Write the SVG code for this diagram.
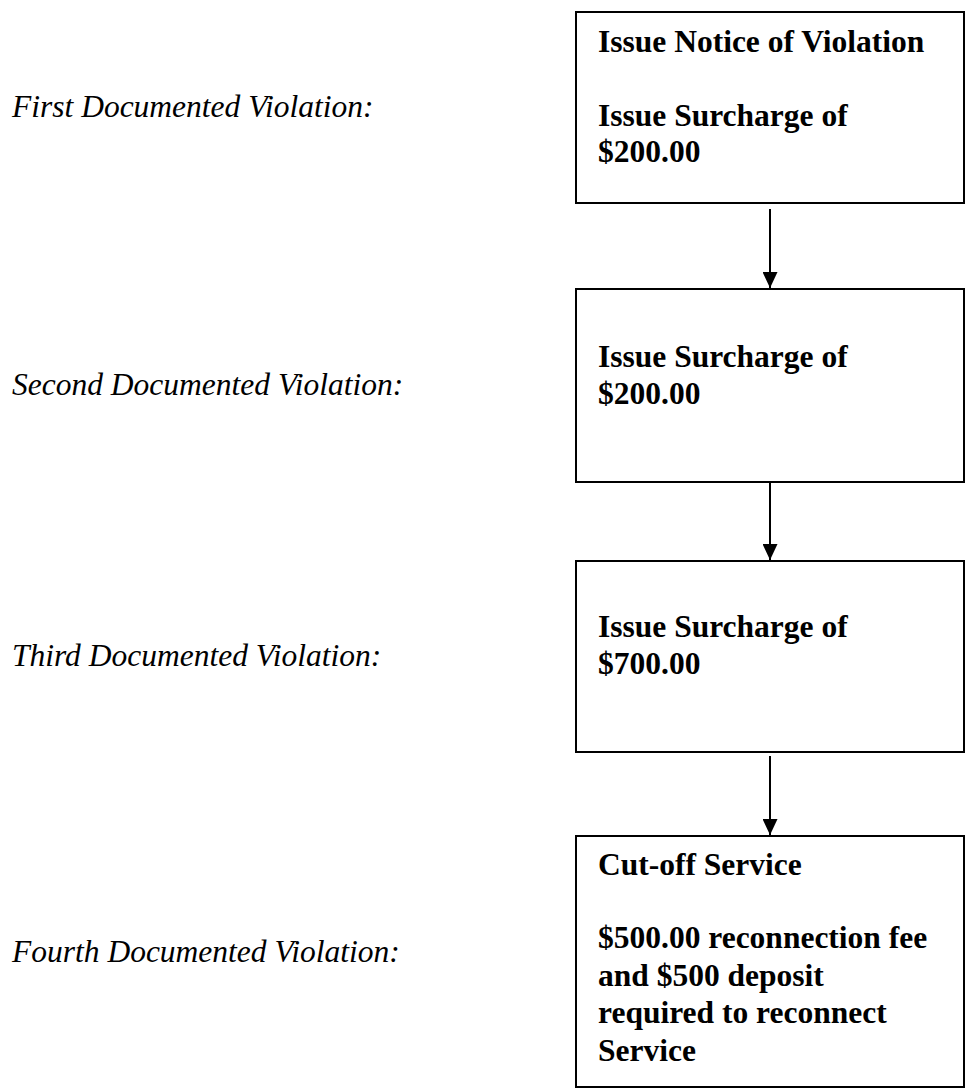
<svg xmlns="http://www.w3.org/2000/svg" width="972" height="1089" viewBox="0 0 972 1089">
<defs>
<style>
.box{fill:#fff;stroke:#000;stroke-width:2}
.bt{font-family:"Liberation Serif","Times New Roman",serif;font-weight:bold;font-size:31.5px;fill:#000}
.lbl{font-family:"Liberation Serif","Times New Roman",serif;font-style:italic;font-size:31.5px;fill:#000}
.conn{stroke:#000;stroke-width:2;fill:none}
</style>
<marker id="arr" markerWidth="16" markerHeight="15" refX="16" refY="7.5" orient="auto" markerUnits="userSpaceOnUse">
<path d="M0,0 L16,7.5 L0,15 Z" fill="#000"/>
</marker>
</defs>
<rect width="972" height="1089" fill="#fff"/>
<g id="label1"><text class="lbl" x="12" y="117">First Documented Violation:</text></g>
<g id="label2"><text class="lbl" x="12" y="395">Second Documented Violation:</text></g>
<g id="label3"><text class="lbl" x="12" y="666">Third Documented Violation:</text></g>
<g id="label4"><text class="lbl" x="12" y="962">Fourth Documented Violation:</text></g>
<g id="node1">
<rect class="box" x="576" y="12" width="388" height="191"/>
<text class="bt" x="598" y="52">Issue Notice of Violation</text>
<text class="bt" x="598" y="126">Issue Surcharge of</text>
<text class="bt" x="598" y="162">$200.00</text>
</g>
<g id="node2">
<rect class="box" x="576" y="289" width="388" height="193"/>
<text class="bt" x="598" y="367">Issue Surcharge of</text>
<text class="bt" x="598" y="404">$200.00</text>
</g>
<g id="node3">
<rect class="box" x="576" y="561" width="388" height="191"/>
<text class="bt" x="598" y="637">Issue Surcharge of</text>
<text class="bt" x="598" y="674">$700.00</text>
</g>
<g id="node4">
<rect class="box" x="576" y="836" width="388" height="251"/>
<text class="bt" x="598" y="875">Cut-off Service</text>
<text class="bt" x="598" y="948">$500.00 reconnection fee</text>
<text class="bt" x="598" y="986">and $500 deposit</text>
<text class="bt" x="598" y="1023">required to reconnect</text>
<text class="bt" x="598" y="1061">Service</text>
</g>
<g id="connectors">
<line class="conn" x1="770" y1="209" x2="770" y2="288" marker-end="url(#arr)"/>
<line class="conn" x1="770" y1="482" x2="770" y2="560" marker-end="url(#arr)"/>
<line class="conn" x1="770" y1="756" x2="770" y2="835" marker-end="url(#arr)"/>
</g>
</svg>
